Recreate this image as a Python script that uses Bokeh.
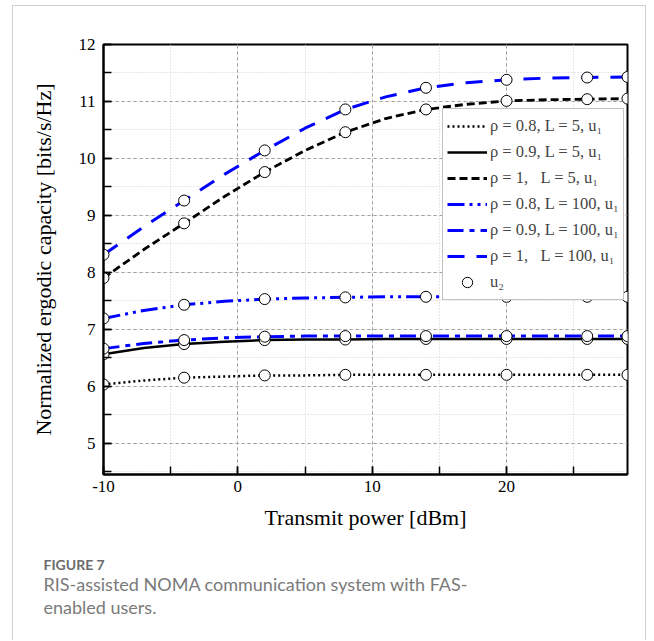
from bokeh.plotting import figure
from bokeh.models import Legend, LegendItem, SingleIntervalTicker, Title, PrintfTickFormatter
from bokeh.embed import file_html
from bokeh.resources import INLINE

# ---- data ----
power_dbm = [-10, -7, -4, -1, 2, 5, 8, 11, 14, 17, 20, 23, 26, 29]
marker_idx = [0, 2, 4, 6, 8, 10, 12, 13]

cap_r08_L5 = [6.03, 6.10, 6.15, 6.17, 6.19, 6.19, 6.20, 6.20, 6.20, 6.20, 6.20, 6.20, 6.20, 6.20]
cap_r09_L5 = [6.56, 6.67, 6.74, 6.78, 6.81, 6.82, 6.82, 6.83, 6.83, 6.83, 6.83, 6.83, 6.83, 6.83]
cap_r1_L5 = [7.90, 8.40, 8.86, 9.33, 9.76, 10.14, 10.46, 10.70, 10.86, 10.95, 11.01, 11.03, 11.04, 11.05]
cap_r08_L100 = [7.19, 7.33, 7.43, 7.49, 7.53, 7.55, 7.56, 7.57, 7.57, 7.57, 7.57, 7.57, 7.57, 7.57]
cap_r09_L100 = [6.66, 6.75, 6.81, 6.85, 6.87, 6.88, 6.88, 6.88, 6.88, 6.88, 6.88, 6.88, 6.88, 6.88]
cap_r1_L100 = [8.31, 8.80, 9.26, 9.72, 10.14, 10.53, 10.86, 11.08, 11.24, 11.33, 11.38, 11.41, 11.42, 11.43]

labels = [
    "ρ = 0.8, L = 5, u₁",
    "ρ = 0.9, L = 5, u₁",
    "ρ = 1,\u00a0\u00a0\u00a0L = 5, u₁",
    "ρ = 0.8, L = 100, u₁",
    "ρ = 0.9, L = 100, u₁",
    "ρ = 1,\u00a0\u00a0\u00a0L = 100, u₁",
    "u₂",
]
caption_head = "FIGURE 7"
caption_body = "RIS-assisted NOMA communication system with FAS-\nenabled users."

series = [cap_r08_L5, cap_r09_L5, cap_r1_L5, cap_r08_L100, cap_r09_L100, cap_r1_L100]
colors = ["black", "black", "black", "#0000ff", "#0000ff", "#0000ff"]
dashes = ["2 3", "solid", "8 4", "17 5 3 5 3 5", "16 6 5 6", "17 12"]
widths = [2.5, 2.5, 2.8, 3, 3, 3]

SERIF = "Liberation Serif"

p = figure(width=634, height=635, x_range=(-10, 29), y_range=(4.45, 12),
           output_backend="svg", toolbar_location=None,
           min_border_left=90, min_border_right=20, min_border_top=38, min_border_bottom=167,
           margin=(5, 0, 0, 12),
           styles={"border-left": "1px solid #d0d0d0", "border-top": "1px solid #d0d0d0",
                   "border-right": "1px solid #d0d0d0"})
p.background_fill_color = "white"
p.border_fill_color = "white"
p.outline_line_color = "black"
p.outline_line_width = 2

p.xaxis.ticker = SingleIntervalTicker(interval=10, num_minor_ticks=2)
p.yaxis.ticker = SingleIntervalTicker(interval=1, num_minor_ticks=2)
p.xaxis.formatter = PrintfTickFormatter(format="%d")
p.yaxis.formatter = PrintfTickFormatter(format="%d")

for ax in (p.xaxis[0], p.yaxis[0]):
    ax.axis_line_color = "black"
    ax.axis_line_width = 2
    ax.major_tick_in = 8
    ax.major_tick_out = 0
    ax.minor_tick_in = 8
    ax.minor_tick_out = 0
    ax.major_tick_line_width = 1.5
    ax.minor_tick_line_width = 1.5
    ax.major_label_text_font = SERIF
    ax.major_label_text_font_size = "17px"
    ax.major_label_text_color = "black"
    ax.axis_label_text_font = SERIF
    ax.axis_label_text_font_size = "22px"
    ax.axis_label_text_font_style = "normal"
    ax.axis_label_text_color = "black"

p.xaxis.axis_label = "Transmit power [dBm]"
p.yaxis.axis_label = "Normalized ergodic capacity [bits/s/Hz]"
p.xaxis.major_label_standoff = 6
p.yaxis.major_label_standoff = 8
p.xaxis.axis_label_standoff = 10
p.yaxis.axis_label_standoff = 20

for g in (p.xgrid[0], p.ygrid[0]):
    g.grid_line_color = "#a0a0a0"
    g.grid_line_dash = "3 3"
    g.grid_line_width = 1
    g.minor_grid_line_color = "#d0d0d0"
    g.minor_grid_line_dash = "1 2"
    g.minor_grid_line_width = 1

items = []
for ser, c, d, w, lab in zip(series, colors, dashes, widths, labels[:6]):
    r = p.line(power_dbm, ser, line_color=c, line_dash=d, line_width=w)
    items.append(LegendItem(label=lab, renderers=[r]))

mx = [power_dbm[i] for i in marker_idx]
circle_renderers = []
for ser in series:
    my = [ser[i] for i in marker_idx]
    cr = p.scatter(mx, my, marker="circle", size=11, fill_color="white",
                   line_color="black", line_width=1)
    circle_renderers.append(cr)
items.append(LegendItem(label=labels[6], renderers=[circle_renderers[0]]))

legend = Legend(items=items, location=(339, 174), margin=0, padding=4, spacing=0,
                label_height=26, glyph_height=26, glyph_width=40, label_standoff=3,
                label_text_font=SERIF, label_text_font_size="16.5px",
                border_line_color="#888888", border_line_width=1,
                background_fill_color="white", background_fill_alpha=1)
p.add_layout(legend)

cap1 = Title(text=caption_head, align="left", offset=-60, standoff=43,
             text_font="Lato", text_font_style="bold", text_font_size="14px",
             text_color="#6b6b6b")
cap2 = Title(text=caption_body, align="left", offset=-60, standoff=-48,
             text_font="Lato", text_font_style="normal", text_font_size="18px",
             text_line_height=1.05, text_color="#7a7a7a")
for c in (cap1, cap2):
    p.add_layout(c, "below")

open("out.html", "w").write(file_html(p, INLINE))
